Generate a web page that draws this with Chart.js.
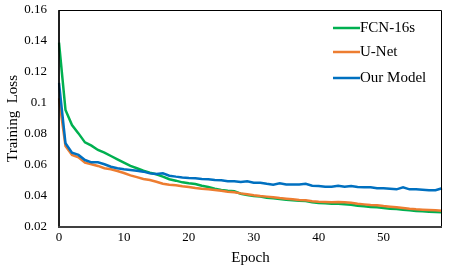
<!DOCTYPE html>
<html><head><meta charset="utf-8">
<script src="https://cdn.jsdelivr.net/npm/chart.js@4/dist/chart.umd.min.js"></script>
<style>html,body{margin:0;padding:0;background:#fff}#wrap{width:454px;height:269px;position:relative}</style>
</head><body><div id="wrap"><canvas id="c"></canvas></div>
<script>
const epochs = [0,1,2,3,4,5,6,7,8,9,10,11,12,13,14,15,16,17,18,19,20,21,22,23,24,25,26,27,28,29,30,31,32,33,34,35,36,37,38,39,40,41,42,43,44,45,46,47,48,49,50,51,52,53,54,55,56,57,58,59];
const fcn16s = [0.139,0.0955,0.0858,0.0804,0.0746,0.0725,0.0697,0.068,0.0658,0.0637,0.0615,0.0594,0.0579,0.0563,0.055,0.054,0.0525,0.0508,0.0499,0.0488,0.0482,0.0477,0.0466,0.0458,0.0447,0.0439,0.0434,0.043,0.0415,0.0406,0.04,0.0396,0.0389,0.0385,0.0381,0.0376,0.0372,0.037,0.0368,0.0359,0.0355,0.0353,0.035,0.035,0.0347,0.0344,0.0337,0.0334,0.0329,0.0327,0.0323,0.0318,0.0316,0.0312,0.0308,0.0303,0.0301,0.0299,0.0297,0.0295];
const unet = [0.103,0.0723,0.0665,0.065,0.0615,0.0605,0.0594,0.0579,0.0572,0.0561,0.0548,0.0533,0.0522,0.051,0.0503,0.0492,0.0479,0.0473,0.0469,0.0463,0.0458,0.0452,0.0447,0.0443,0.0439,0.0434,0.0428,0.0424,0.0417,0.0411,0.0405,0.04,0.0396,0.0392,0.0387,0.0383,0.0379,0.0374,0.0372,0.0366,0.0363,0.0362,0.036,0.0361,0.0359,0.0356,0.035,0.0346,0.0342,0.034,0.0335,0.0331,0.0327,0.0323,0.0318,0.0314,0.0312,0.031,0.0308,0.0305];
const ourModel = [0.113,0.074,0.068,0.0665,0.0632,0.0617,0.0617,0.0605,0.0589,0.0579,0.0572,0.0568,0.0563,0.0557,0.0546,0.0542,0.0546,0.0531,0.0525,0.052,0.0516,0.0514,0.051,0.0508,0.0503,0.0501,0.0495,0.0495,0.049,0.0495,0.0486,0.0486,0.0479,0.0473,0.0482,0.0475,0.0475,0.0475,0.0479,0.0466,0.0465,0.046,0.046,0.0466,0.046,0.0465,0.0458,0.0456,0.0456,0.045,0.045,0.0447,0.0443,0.0456,0.0443,0.0443,0.0441,0.0437,0.0437,0.045];
const seriesNames = ['FCN-16s','U-Net','Our Model'];
const seriesColors = ['#00B050','#ED7D31','#0070C0'];
const yTickLabels = ['0.02','0.04','0.06','0.08','0.1','0.12','0.14','0.16'];
const xTickLabels = ['0','10','20','30','40','50'];

const FONT = '"Liberation Serif","Times New Roman",serif';

const framePlugin = {
  id:'frame',
  afterDatasetsDraw(chart){
    const {ctx, chartArea:a} = chart;
    ctx.save();
    ctx.strokeStyle = '#000'; ctx.lineWidth = 1;
    ctx.beginPath();
    ctx.moveTo(a.left, a.bottom); ctx.lineTo(a.left, a.top+0.5); ctx.lineTo(a.right-0.5, a.top+0.5); ctx.lineTo(a.right-0.5, a.bottom);
    ctx.stroke();
    ctx.lineWidth = 1.5;
    ctx.beginPath(); ctx.moveTo(a.left, a.top); ctx.lineTo(a.left, a.bottom); ctx.stroke();
    ctx.strokeStyle = '#404040'; ctx.lineWidth = 2;
    ctx.beginPath(); ctx.moveTo(a.left-1, a.bottom); ctx.lineTo(a.right, a.bottom); ctx.stroke();
    // legend
    ctx.font = '15px ' + FONT;
    ctx.textBaseline = 'middle'; ctx.textAlign = 'left';
    const rows = [a.top+18, a.top+42, a.top+68];
    seriesNames.forEach((n,i)=>{
      ctx.strokeStyle = seriesColors[i]; ctx.lineWidth = 2.5;
      ctx.beginPath(); ctx.moveTo(a.right-109, rows[i]); ctx.lineTo(a.right-82, rows[i]); ctx.stroke();
      ctx.fillStyle = '#000';
      ctx.fillText(n, a.right-82, rows[i]);
    });
    ctx.restore();
  }
};

new Chart(document.getElementById('c'), {
  type:'line',
  data:{
    labels: epochs,
    datasets:[fcn16s, unet, ourModel].map((d,i)=>({
      label: seriesNames[i], data: d, borderColor: seriesColors[i], backgroundColor: seriesColors[i],
      borderWidth: 2.5, pointRadius: 0, tension: 0, fill: false, order: 3-i
    }))
  },
  options:{
    responsive:true, maintainAspectRatio:false, animation:false,
    layout:{padding:{top:10,right:12,left:0,bottom:0}},
    plugins:{legend:{display:false}, tooltip:{enabled:false}},
    scales:{
      x:{
        type:'category', offset:false,
        grid:{display:false, drawTicks:false}, border:{display:false},
        ticks:{autoSkip:false, maxRotation:0, padding:3, color:'#000', font:{family:FONT,size:13},
          callback:(v,i)=> (i%10===0 ? xTickLabels[i/10] : '')},
        title:{display:true, text:'Epoch', color:'#000', font:{family:FONT,size:15}, padding:{top:0,bottom:2}},
        afterFit(s){ s.height = 42; s.paddingLeft = 0; s.paddingRight = 0; }
      },
      y:{
        min:0.02, max:0.16,
        grid:{display:false, drawTicks:false}, border:{display:false},
        ticks:{stepSize:0.02, padding:12, color:'#000', font:{family:FONT,size:13},
          callback:(v,i)=> yTickLabels[i]},
        title:{display:true, text:'Training  Loss', color:'#000', font:{family:FONT,size:15}, padding:{top:4,bottom:0}},
        afterFit(s){ s.width = 59; s.paddingTop = 0; s.paddingBottom = 0; }
      }
    }
  },
  plugins:[framePlugin]
});
</script></body></html>
